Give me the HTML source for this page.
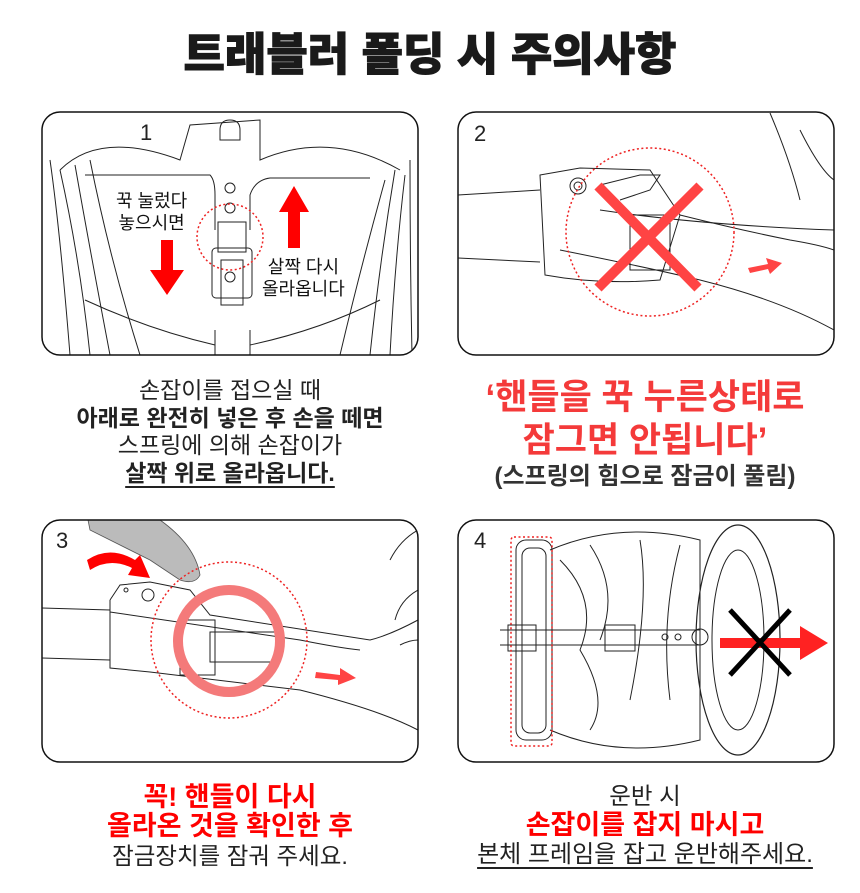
<!DOCTYPE html>
<html><head><meta charset="utf-8"><style>
body{margin:0;width:860px;height:893px;background:#fff;position:relative;overflow:hidden;font-family:"Liberation Sans","Noto Sans CJK KR",sans-serif;}
.t{position:absolute;text-align:center;white-space:nowrap;line-height:1;}
svg{position:absolute;left:0;top:0}
</style></head><body>
<svg width="860" height="893" viewBox="0 0 860 893">
<defs>
<clipPath id="c1"><rect x="42" y="112" width="376" height="243" rx="18"/></clipPath>
<clipPath id="c2"><rect x="458" y="112" width="376" height="243" rx="18"/></clipPath>
<clipPath id="c3"><rect x="42" y="520" width="376" height="242" rx="18"/></clipPath>
<clipPath id="c4"><rect x="458" y="520" width="376" height="242" rx="18"/></clipPath>
</defs>
<g clip-path="url(#c1)" fill="none" stroke="#222" stroke-width="1">
<path d="M60 170 Q100 130 180 160 L190 125 L260 120 L260 160 Q330 130 400 170"/>
<path d="M85 175 L210 175 Q215 180 215 195 L215 230 M250 230 L250 195 Q255 180 270 178 L370 178"/>
<path d="M50 160 Q60 230 70 355 M60 170 Q80 260 90 355 M75 165 Q90 250 110 355 M90 160 Q110 260 140 355 M395 170 Q380 260 370 355 M405 175 Q395 260 390 355 M385 180 Q360 270 340 355 M410 160 Q410 260 412 355"/>
<path d="M85 300 Q150 330 215 345 M250 345 Q320 330 380 300"/>
<path d="M215 330 L215 355 M250 330 L250 355"/>
<rect x="212" y="248" width="40" height="50" rx="4"/>
<rect x="218" y="222" width="28" height="30"/>
<rect x="221" y="260" width="22" height="45"/>
<circle cx="230" cy="188" r="5"/><circle cx="230" cy="208" r="5"/><circle cx="230" cy="277" r="5"/>
<path d="M220 130 Q220 120 230 120 Q240 120 240 130 L240 140 L220 140Z"/>
</g>
<rect x="42" y="112" width="376" height="243" rx="18" fill="none" stroke="#111" stroke-width="1.5"/>
<circle cx="230" cy="237" r="33" fill="none" stroke="#e22" stroke-width="1.5" stroke-dasharray="2 2.5"/>
<path d="M161 240 L173 240 L173 270 L184 270 L167 295 L150 270 L161 270Z" fill="#f00"/>
<path d="M288 248 L300 248 L300 212 L309 212 L294 186 L279 212 L288 212Z" fill="#f00"/>
<g clip-path="url(#c2)" fill="none" stroke="#222" stroke-width="1">
<path d="M458 195 L540 190 M458 258 L540 262 M680 215 Q740 230 790 240 Q820 245 834 250"/>
<path d="M540 175 L580 168 L650 170 L680 215 L660 280 Q600 285 545 275 Z"/>
<path d="M600 210 Q700 225 834 230"/>
<path d="M560 250 Q650 268 700 280 Q780 300 834 330"/>
<circle cx="578" cy="186" r="8"/><circle cx="578" cy="186" r="4"/>
<path d="M600 185 L640 175 L660 175 L650 190 L620 200"/>
<rect x="630" y="215" width="40" height="55"/>
<path d="M770 113 Q790 160 800 200 M800 130 Q820 170 834 180"/>
</g>
<rect x="458" y="112" width="376" height="243" rx="18" fill="none" stroke="#111" stroke-width="1.5"/>
<circle cx="650" cy="232" r="84" fill="none" stroke="#e22" stroke-width="1.5" stroke-dasharray="2 2.5"/>
<path d="M598 186 L698 288 M700 186 L598 288" stroke="#f44" stroke-width="10"/>
<path d="M748 268 L768 264 L766 258 L782 263 L770 274 L768 269 L750 273Z" fill="#f44"/>
<g clip-path="url(#c3)" fill="none" stroke="#222" stroke-width="1">
<path d="M42 608 L110 610 M42 658 L110 660"/>
<path d="M110 600 L120 585 L150 582 L190 590 L210 615 L370 640 Q390 635 418 620"/>
<path d="M110 600 L110 668 L150 672 L300 690 Q380 710 418 730"/>
<path d="M110 612 L300 640 Q340 648 360 650"/>
<rect x="180" y="620" width="35" height="55"/><rect x="210" y="632" width="70" height="30"/>
<circle cx="148" cy="595" r="6"/><circle cx="126" cy="590" r="2"/>
<path d="M390 560 Q400 540 418 530 M395 620 Q400 600 418 590 M400 645 Q410 640 418 640"/>
</g>
<path d="M88 520 L160 520 Q195 545 200 575 Q195 585 180 580 L150 560 L90 530Z" fill="#bbb" stroke="#555" stroke-width="0.8"/>
<rect x="42" y="520" width="376" height="242" rx="18" fill="none" stroke="#111" stroke-width="1.5"/>
<circle cx="229" cy="640" r="78" fill="none" stroke="#e22" stroke-width="1.5" stroke-dasharray="2 2.5"/>
<circle cx="229" cy="641" r="51" fill="none" stroke="#f47a7a" stroke-width="10"/>
<path d="M87 560 Q110 545 135 560 L140 555 L150 578 L128 575 L132 568 Q110 557 90 570Z" fill="#f00"/>
<path d="M316 672 L340 675 L340 668 L356 678 L338 685 L338 680 L315 678Z" fill="#f44"/>
<g clip-path="url(#c4)" fill="none" stroke="#222" stroke-width="1">
<rect x="516" y="540" width="36" height="200" rx="10"/>
<rect x="522" y="548" width="24" height="185" rx="8"/>
<path d="M550 550 Q620 520 700 540 L700 740 Q620 760 550 730"/>
<path d="M560 560 Q600 600 580 650 Q610 700 590 730 M590 545 Q620 590 600 640 M640 540 Q650 600 630 700 M680 545 Q660 620 670 700"/>
<ellipse cx="738" cy="640" rx="42" ry="115" stroke-width="1.2"/>
<ellipse cx="738" cy="640" rx="26" ry="90"/>
<path d="M500 630 L700 630 M500 645 L700 645"/>
<rect x="508" y="625" width="28" height="26"/>
<rect x="605" y="625" width="30" height="26"/>
<circle cx="665" cy="637" r="3"/><circle cx="678" cy="637" r="3"/><circle cx="700" cy="637" r="8"/>
</g>
<rect x="458" y="520" width="376" height="242" rx="18" fill="none" stroke="#111" stroke-width="1.5"/>
<rect x="511" y="537" width="41" height="209" rx="3" fill="none" stroke="#e22" stroke-width="1.5" stroke-dasharray="2 2.5"/>
<path d="M720 638 L800 638 L800 626 L828 643 L800 660 L800 648 L720 648Z" fill="#f22"/>
<path d="M730 610 L790 675 M790 610 L730 675" stroke="#000" stroke-width="5"/>
</svg>
<div class="t" style="left:0;width:860px;top:32px;font-size:45px;font-weight:900;color:#1a1a1a;-webkit-text-stroke:1px #1a1a1a">트래블러 폴딩 시 주의사항</div>
<div class="t" style="left:140px;top:122px;font-size:22px;color:#222">1</div>
<div class="t" style="left:474px;top:123px;font-size:22px;color:#222">2</div>
<div class="t" style="left:56px;top:530px;font-size:22px;color:#222">3</div>
<div class="t" style="left:474px;top:530px;font-size:22px;color:#222">4</div>
<div class="t" style="left:116px;top:190px;font-size:18px;line-height:22px;color:#111">꾹 눌렀다<br>놓으시면</div>
<div class="t" style="left:262px;top:256px;font-size:18px;line-height:22px;color:#111">살짝 다시<br>올라옵니다</div>
<div class="t" style="left:30px;width:400px;top:377px;font-size:23px;line-height:27.5px;color:#222">손잡이를 접으실 때<br><b>아래로 완전히 넣은 후 손을 떼면</b><br>스프링에 의해 손잡이가<br><b style="text-decoration:underline;text-underline-offset:5px">살짝 위로 올라옵니다.</b></div>
<div class="t" style="left:445px;width:400px;top:376px;font-size:35px;line-height:43px;font-weight:bold;color:#f43a3a">‘핸들을 꾹 누른상태로<br>잠그면 안됩니다’</div>
<div class="t" style="left:445px;width:400px;top:465px;font-size:24px;font-weight:bold;color:#333">(스프링의 힘으로 잠금이 풀림)</div>
<div class="t" style="left:30px;width:400px;top:783px;font-size:27px;line-height:29px;color:#222"><b style="color:#f00">꼭! 핸들이 다시<br>올라온 것을 확인한 후</b><br><span style="font-size:23.5px">잠금장치를 잠궈 주세요.</span></div>
<div class="t" style="left:445px;width:400px;top:782px;font-size:23.5px;line-height:28.5px;color:#222">운반 시<br><b style="color:#f00;font-size:27px">손잡이를 잡지 마시고</b><br><span style="font-size:24px;text-decoration:underline;text-underline-offset:5px">본체 프레임을 잡고 운반해주세요.</span></div>
</body></html>
